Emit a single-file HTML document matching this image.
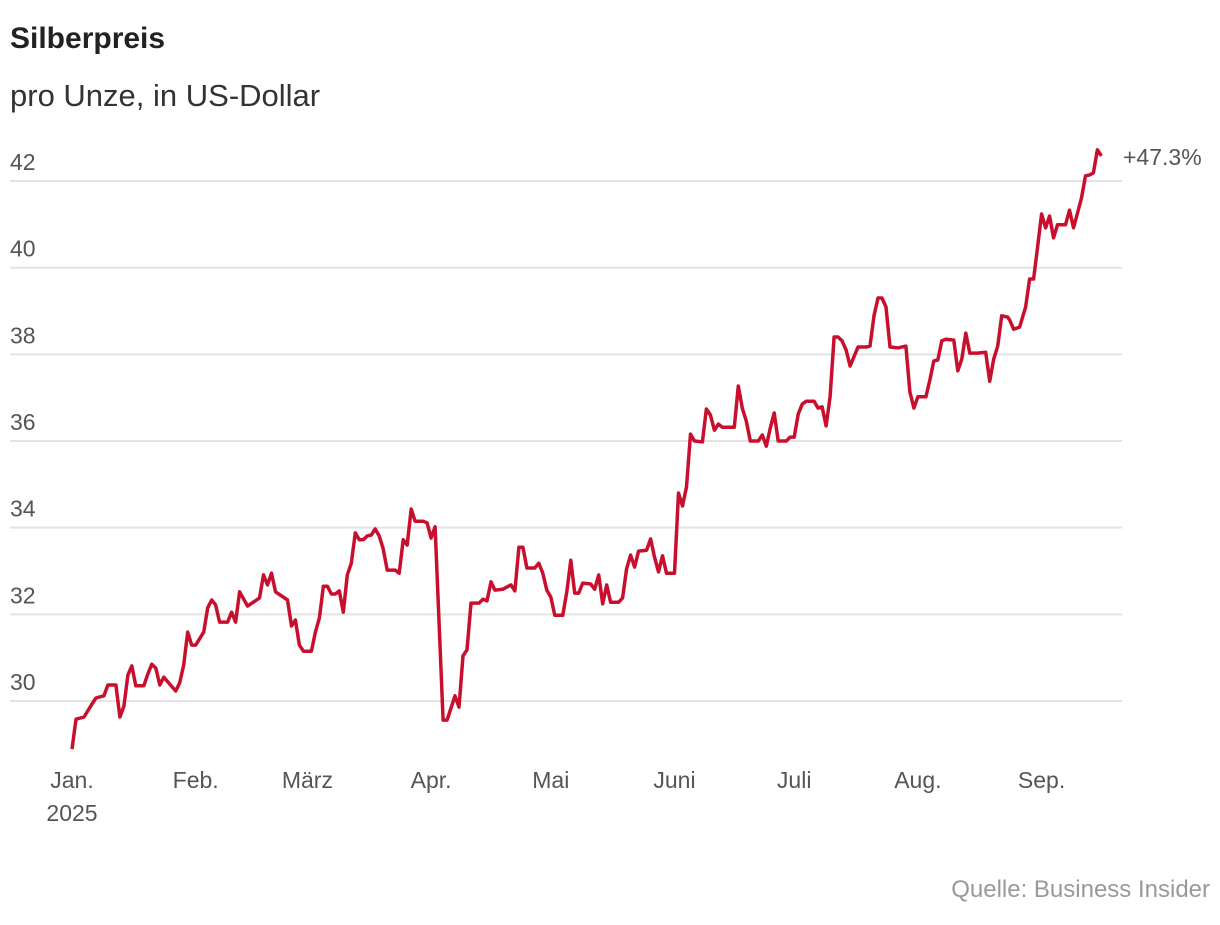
<!DOCTYPE html>
<html><head><meta charset="utf-8"><style>
html,body{margin:0;padding:0;background:#fff;}
body{width:1220px;height:920px;overflow:hidden;font-family:"Liberation Sans",sans-serif;}
</style></head><body>
<svg id="chart" width="1220" height="920" xmlns="http://www.w3.org/2000/svg">
<text x="10" y="48" font-size="30" font-weight="bold" fill="#222">Silberpreis</text>
<text x="10" y="106" font-size="31" fill="#333">pro Unze, in US-Dollar</text>
<g id="grid"></g>
<g id="ylabels"></g>
<g id="xlabels"></g>
<path id="line" fill="none" stroke="#c8102e" stroke-width="3.5" stroke-linejoin="round"/>
<text id="endlabel" x="1123" y="165" font-size="23" fill="#555">+47.3%</text>
<text x="1210" y="897" font-size="24" fill="#999" text-anchor="end">Quelle: Business Insider</text>
</svg>
<script>
const yTicks=[30,32,34,36,38,40,42];
const monthLabels=["Jan.","Feb.","März","Apr.","Mai","Juni","Juli","Aug.","Sep."];
const monthDays=[0,31,59,90,120,151,181,212,243];
const days=[0,1,3,5,6,8,9,11,12,13,14,15,16,18,19,20,21,22,23,26,27,28,29,30,31,33,34,35,36,37,39,40,41,42,44,47,48,49,50,51,54,55,56,57,58,60,61,62,63,64,65,66,67,68,69,70,71,72,73,74,75,76,77,78,79,81,82,83,84,85,86,88,89,90,91,93,94,96,97,98,99,100,102,103,104,105,106,108,110,111,112,113,114,116,117,118,119,120,121,123,124,125,126,127,128,130,131,132,133,134,135,137,138,139,140,141,142,144,145,146,147,148,149,151,152,153,154,155,156,158,159,160,161,162,163,166,167,168,169,170,172,173,174,175,176,177,179,180,181,182,183,184,186,187,188,189,190,191,192,193,194,195,197,199,200,201,202,203,204,205,207,209,210,211,212,214,215,216,217,218,219,221,222,223,224,225,227,229,230,231,232,233,234.5,235,236,237.5,239,240,241,242,243,244,245,246,247,249,250,251,252,253,254,255,256,257,258];
const prices=[28.89,29.58,29.63,29.93,30.07,30.12,30.37,30.37,29.63,29.88,30.6,30.81,30.35,30.35,30.62,30.85,30.76,30.37,30.55,30.23,30.42,30.83,31.59,31.29,31.29,31.59,32.15,32.33,32.22,31.82,31.82,32.05,31.82,32.52,32.19,32.38,32.91,32.68,32.95,32.52,32.33,31.73,31.87,31.29,31.15,31.15,31.59,31.92,32.65,32.65,32.47,32.47,32.54,32.05,32.91,33.18,33.88,33.72,33.72,33.81,33.83,33.97,33.81,33.51,33.02,33.02,32.95,33.72,33.6,34.43,34.15,34.15,34.11,33.76,34.02,29.56,29.56,30.12,29.86,31.04,31.18,32.26,32.26,32.35,32.31,32.75,32.56,32.58,32.68,32.54,33.55,33.55,33.07,33.07,33.18,32.95,32.56,32.4,31.98,31.98,32.52,33.25,32.49,32.49,32.72,32.7,32.58,32.91,32.24,32.68,32.28,32.28,32.38,33.05,33.37,33.09,33.46,33.48,33.74,33.32,32.98,33.35,32.95,32.95,34.8,34.5,34.94,36.16,36.0,35.98,36.74,36.6,36.25,36.39,36.32,36.32,37.27,36.76,36.46,36.0,36.0,36.14,35.88,36.3,36.65,36.0,36.0,36.09,36.09,36.62,36.85,36.92,36.92,36.76,36.79,36.35,37.02,38.4,38.4,38.31,38.1,37.73,38.17,38.17,38.19,38.89,39.3,39.3,39.09,38.17,38.15,38.19,37.13,36.76,37.02,37.02,37.41,37.85,37.87,38.31,38.35,38.33,37.62,37.89,38.49,38.03,38.03,38.05,37.38,37.89,38.19,38.89,38.86,38.79,38.58,38.63,39.09,39.74,39.74,40.48,41.24,40.92,41.19,40.69,40.99,40.99,41.33,40.92,41.26,41.61,42.12,42.14,42.19,42.72,42.58];
const NS="http://www.w3.org/2000/svg";
function xScale(d){return 72+d*3.99;}
function yScale(v){return 701-(v-30)*43.33;}
const grid=document.getElementById('grid'),yl=document.getElementById('ylabels'),xl=document.getElementById('xlabels');
yTicks.forEach(t=>{
  const l=document.createElementNS(NS,'line');
  
  
  l.setAttribute('x1',10);l.setAttribute('x2',1122);
  l.setAttribute('y1',yScale(t));l.setAttribute('y2',yScale(t));
  l.setAttribute('stroke','#e3e3e3');l.setAttribute('stroke-width','2');
  grid.appendChild(l);
  const tx=document.createElementNS(NS,'text');
  
  
  tx.setAttribute('x',10);tx.setAttribute('y',yScale(t)-11);
  tx.setAttribute('font-size','23');tx.setAttribute('fill','#555');
  tx.textContent=t;yl.appendChild(tx);
});
monthLabels.forEach((m,i)=>{
  const tx=document.createElementNS(NS,'text');
  
  
  tx.setAttribute('x',xScale(monthDays[i]));tx.setAttribute('y',788);
  tx.setAttribute('font-size','23');tx.setAttribute('fill','#555');tx.setAttribute('text-anchor','middle');
  tx.textContent=m;xl.appendChild(tx);
});
const yr=document.createElementNS(NS,'text');


yr.setAttribute('x',xScale(0));yr.setAttribute('y',821);
yr.setAttribute('font-size','23');yr.setAttribute('fill','#555');yr.setAttribute('text-anchor','middle');
yr.textContent='2025';xl.appendChild(yr);
let d='';
days.forEach((dd,i)=>{d+=(i?'L':'M')+xScale(dd).toFixed(1)+','+yScale(prices[i]).toFixed(1);});
document.getElementById('line').setAttribute('d',d);
</script>
</body></html>
